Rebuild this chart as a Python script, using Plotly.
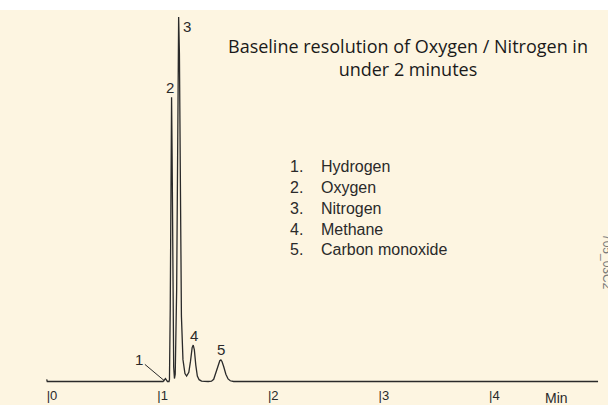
import plotly.graph_objects as go

# retention time (min) and detector signal (relative, N2 peak = 100)
time_min = [0.000, 0.005, 1.020, 1.052, 1.074, 1.092, 1.106,
            1.110, 1.117, 1.124, 1.129, 1.134, 1.141, 1.148, 1.155,
            1.162, 1.175, 1.186, 1.193, 1.200, 1.208, 1.218, 1.232, 1.250, 1.265,
            1.285, 1.300, 1.315, 1.325, 1.335, 1.348, 1.362, 1.378, 1.400, 1.460,
            1.490, 1.510, 1.530, 1.550, 1.565, 1.575, 1.585, 1.600, 1.620, 1.640,
            1.660, 1.690, 4.985]
signal = [0.6, 0.0, 0.0, 0.0, 0.8, 0.0, 0.0,
          0.5, 20.0, 65.0, 78.0, 62.0, 20.0, 4.0, 0.8,
          2.0, 25.0, 80.0, 100.0, 90.0, 50.0, 18.0, 6.0, 2.2, 1.5,
          2.5, 5.5, 9.3, 10.0, 8.7, 4.5, 1.5, 0.5, 0.1, 0.0,
          0.1, 0.6, 2.3, 4.6, 5.7, 5.9, 5.5, 4.1, 2.0, 0.7,
          0.2, 0.0, 0.0]

# peak labels: number, apex time, apex signal
peak_ids = ["1", "2", "3", "4", "5"]
peak_time = [1.074, 1.129, 1.193, 1.325, 1.575]
peak_signal = [0.8, 78.0, 100.0, 10.0, 5.9]

compounds = ["Hydrogen", "Oxygen", "Nitrogen", "Methane", "Carbon monoxide"]

tick_vals = [0, 1, 2, 3, 4]
tick_text = ["|0", "|1", "|2", "|3", "|4"]

cream = "#FDF5E1"
ink = "#2a2a2a"
helv = "Liberation Sans, Arial, sans-serif"

fig = go.Figure()
fig.add_trace(go.Scatter(x=time_min, y=signal, mode="lines",
                         line=dict(color=ink, width=1.3), hoverinfo="skip"))

annos = []
# peak numbers (pixel nudges from the apex)
offsets = {"1": (-25, -21), "2": (-2, 10), "3": (8, -9), "4": (1, 10), "5": (0, 10)}
for pid, t, s in zip(peak_ids, peak_time, peak_signal):
    dx, dy = offsets[pid]
    if pid == "1":
        annos.append(dict(x=t - 0.01, y=0.2, text=pid, showarrow=True, arrowhead=0,
                          arrowwidth=1, arrowcolor=ink, ax=dx, ay=dy,
                          font=dict(family=helv, size=15, color=ink)))
    else:
        annos.append(dict(x=t, y=s, text=pid, showarrow=False, xshift=dx, yshift=dy,
                          font=dict(family=helv, size=15, color=ink)))

# compound list
for i, name in enumerate(compounds):
    ypx = 167 + i * 20.7
    annos.append(dict(xref="paper", yref="paper", x=288 / 608, y=(386 - ypx) / 376,
                      text=f"{i + 1}.", showarrow=False, xanchor="left", yanchor="middle",
                      font=dict(family=helv, size=16, color=ink)))
    annos.append(dict(xref="paper", yref="paper", x=319 / 608, y=(386 - ypx) / 376,
                      text=name, showarrow=False, xanchor="left", yanchor="middle",
                      font=dict(family=helv, size=16, color=ink)))

# heading
annos.append(dict(xref="paper", yref="paper", x=408 / 608, y=(386 - 58) / 376,
                  text="Baseline resolution of Oxygen / Nitrogen in<br>under 2 minutes",
                  showarrow=False, xanchor="center", yanchor="middle", align="center",
                  font=dict(family="Open Sans, sans-serif", size=18, color="#1a1a1a")))

# axis unit
annos.append(dict(xref="paper", yref="paper", x=556 / 608, y=(386 - 398) / 376,
                  text="Min", showarrow=False, xanchor="center", yanchor="middle",
                  font=dict(family=helv, size=14, color=ink)))

# figure code on the right edge (cut off by the page edge, as in the source)
annos.append(dict(xref="paper", yref="paper", x=607 / 608, y=(386 - 262) / 376,
                  text="705_03C2", showarrow=False, textangle=90,
                  xanchor="center", yanchor="middle",
                  font=dict(family=helv, size=12, color="#7a7a7a")))

fig.update_layout(
    width=608, height=405,
    margin=dict(l=0, r=0, t=10, b=19),
    paper_bgcolor=cream, plot_bgcolor=cream,
    showlegend=False,
    annotations=annos,
    shapes=[dict(type="rect", xref="paper", yref="paper", x0=0, x1=1, y0=1, y1=1.05,
                 fillcolor="white", line=dict(width=0), layer="above")],
    xaxis=dict(range=[-0.4222, 5.075], showgrid=False, zeroline=False, showline=False,
               tickvals=tick_vals, ticktext=tick_text, ticks="",
               ticklabelposition="outside right",
               tickfont=dict(family=helv, size=13, color=ink)),
    yaxis=dict(range=[-1.235, 101.92], showgrid=False, zeroline=False, showline=False,
               showticklabels=False, ticks=""),
)

# page body has a default 8px margin; remove it so the figure sits at the corner
fig.write_html("out.html", config={"displayModeBar": False},
               post_script="document.body.style.margin='0';")
